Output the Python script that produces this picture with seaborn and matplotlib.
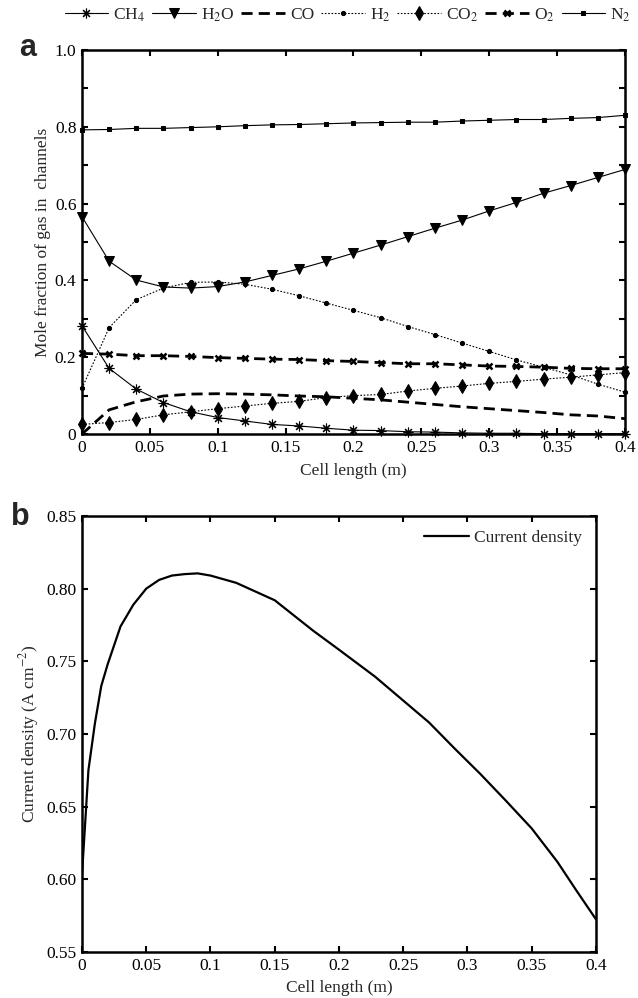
import matplotlib
matplotlib.use("Agg")
import matplotlib.pyplot as plt
import seaborn as sns
import pandas as pd

# Panel a: mole fractions along the cell
cell_x = [0, 0.02, 0.04, 0.06, 0.08, 0.1, 0.12, 0.14, 0.16, 0.18, 0.2,
          0.22, 0.24, 0.26, 0.28, 0.3, 0.32, 0.34, 0.36, 0.38, 0.4]
ch4 = [0.282, 0.171, 0.117, 0.082, 0.058, 0.043, 0.034, 0.025, 0.021, 0.015, 0.010,
       0.009, 0.006, 0.005, 0.003, 0.002, 0.002, 0.001, 0.001, 0.001, 0.001]
h2o = [0.566, 0.450, 0.401, 0.383, 0.380, 0.384, 0.396, 0.413, 0.430, 0.450, 0.471,
       0.492, 0.514, 0.536, 0.557, 0.581, 0.603, 0.627, 0.647, 0.668, 0.689]
co = [0.0, 0.063, 0.084, 0.099, 0.104, 0.105, 0.104, 0.102, 0.099, 0.097, 0.093,
      0.089, 0.083, 0.077, 0.071, 0.066, 0.061, 0.056, 0.050, 0.047, 0.040]
h2 = [0.119, 0.277, 0.350, 0.380, 0.395, 0.396, 0.390, 0.377, 0.360, 0.341, 0.322,
      0.303, 0.280, 0.259, 0.237, 0.215, 0.193, 0.174, 0.154, 0.130, 0.109]
co2 = [0.025, 0.030, 0.038, 0.050, 0.058, 0.066, 0.073, 0.080, 0.085, 0.095, 0.100,
       0.103, 0.112, 0.119, 0.125, 0.132, 0.137, 0.143, 0.148, 0.154, 0.160]
o2 = [0.210, 0.208, 0.204, 0.204, 0.202, 0.199, 0.197, 0.195, 0.194, 0.191, 0.189,
      0.186, 0.183, 0.183, 0.180, 0.177, 0.176, 0.174, 0.171, 0.170, 0.170]
n2 = [0.792, 0.793, 0.796, 0.796, 0.798, 0.800, 0.803, 0.805, 0.806, 0.808, 0.810,
      0.811, 0.812, 0.812, 0.815, 0.817, 0.819, 0.819, 0.822, 0.824, 0.830]

# Panel b: current density
cd_x = [0, 0.005, 0.01, 0.015, 0.02, 0.03, 0.04, 0.05, 0.06, 0.07, 0.08, 0.09, 0.1,
        0.12, 0.13, 0.15, 0.18, 0.2, 0.228, 0.25, 0.27, 0.29, 0.31, 0.33, 0.35,
        0.37, 0.385, 0.4]
cd_y = [0.603, 0.675, 0.707, 0.733, 0.748, 0.774, 0.789, 0.800, 0.806, 0.809, 0.810,
        0.8105, 0.809, 0.804, 0.800, 0.792, 0.771, 0.758, 0.7395, 0.723, 0.708,
        0.690, 0.6725, 0.654, 0.635, 0.612, 0.592, 0.5725]

sns.set_theme(style="ticks")
plt.rcParams['font.family'] = ['Liberation Serif', 'DejaVu Serif']
plt.rcParams['mathtext.fontset'] = 'stix'
plt.rcParams['xtick.direction'] = 'in'
plt.rcParams['ytick.direction'] = 'in'

FS = 12.5

fig = plt.figure(figsize=(6.38, 9.98), dpi=100)
ax_a = fig.add_axes([0.1285, 0.5651, 0.8511, 0.3848])
ax_b = fig.add_axes([0.1285, 0.0461, 0.8056, 0.4369])

df = pd.DataFrame({"x": cell_x, "CH4": ch4, "H2O": h2o, "CO": co, "H2": h2,
                   "CO2": co2, "O2": o2, "N2": n2})

styles = [
    ("CH4", r"CH$_4$", dict(linestyle='-', lw=0.8, marker=(8, 2, 0), markersize=7, mew=0.8)),
    ("H2O", r"H$_2$O", dict(linestyle='-', lw=0.8, marker='v', markersize=7)),
    ("CO", "CO", dict(linestyle=(0, (4, 2.2)), lw=2.0)),
    ("H2", r"H$_2$", dict(linestyle=(0, (1.5, 1.5)), lw=0.8, marker='o', markersize=3)),
    ("CO2", r"CO$_2$", dict(linestyle=(0, (1.5, 1.5)), lw=0.8, marker='d', markersize=7)),
    ("O2", r"O$_2$", dict(linestyle=(0, (4, 2.2)), lw=2.0, marker='x', markersize=4.5, mew=1.8)),
    ("N2", r"N$_2$", dict(linestyle='-', lw=0.8, marker='s', markersize=3)),
]
for col, lab, kw in styles:
    sns.lineplot(data=df, x="x", y=col, ax=ax_a, color='black', label=lab,
                 markerfacecolor='black', markeredgecolor='black', clip_on=False, **kw)

xt = [0, 0.05, 0.1, 0.15, 0.2, 0.25, 0.3, 0.35, 0.4]
xtl = ["0", "0.05", "0.1", "0.15", "0.2", "0.25", "0.3", "0.35", "0.4"]

ax_a.set_xlim(0, 0.4)
ax_a.set_ylim(0, 1.0)
ax_a.set_xticks(xt)
ax_a.set_xticklabels(xtl)
ax_a.set_yticks([0, 0.1, 0.2, 0.3, 0.4, 0.5, 0.6, 0.7, 0.8, 0.9, 1.0])
ax_a.set_yticklabels(["0", "", "0.2", "", "0.4", "", "0.6", "", "0.8", "", "1.0"])
ax_a.set_xlabel("Cell length (m)", fontsize=FS, labelpad=5)
ax_a.set_ylabel("Mole fraction of gas in  channels", fontsize=FS, labelpad=3)

handles, labels = ax_a.get_legend_handles_labels()
ax_a.get_legend().remove()
fig.legend(handles, labels, loc='center', bbox_to_anchor=(0.545, 0.985), ncol=7,
           frameon=False, fontsize=FS, handlelength=2.5, handletextpad=0.3,
           columnspacing=0.4)

sns.lineplot(x=cd_x, y=cd_y, ax=ax_b, color='black', lw=1.6, label="Current density")
ax_b.set_xlim(0, 0.4)
ax_b.set_ylim(0.55, 0.85)
ax_b.set_xticks(xt)
ax_b.set_xticklabels(xtl)
ax_b.set_yticks([0.55, 0.6, 0.65, 0.7, 0.75, 0.8, 0.85])
ax_b.set_yticklabels(["0.55", "0.60", "0.65", "0.70", "0.75", "0.80", "0.85"])
ax_b.set_xlabel("Cell length (m)", fontsize=FS, labelpad=5)
ax_b.set_ylabel(r"Current density (A cm$^{-2}$)", fontsize=FS, labelpad=4)
ax_b.legend(loc='upper right', frameon=False, fontsize=FS, handlelength=2.6,
            handletextpad=0.3, borderaxespad=0.4)

for ax in (ax_a, ax_b):
    for sp in ax.spines.values():
        sp.set_linewidth(1.8)
        sp.set_color('black')
    ax.tick_params(axis='both', which='both', top=True, right=True, length=4,
                   width=1.5, labelsize=FS, pad=4, colors='black')
    ax.grid(False)

fig.text(0.03, 0.952, "a", fontsize=22, fontweight='bold', family='Liberation Sans',
         va='center', ha='left')
fig.text(0.018, 0.482, "b", fontsize=22, fontweight='bold', family='Liberation Sans',
         va='center', ha='left')

fig.savefig("out.png", dpi=100)
